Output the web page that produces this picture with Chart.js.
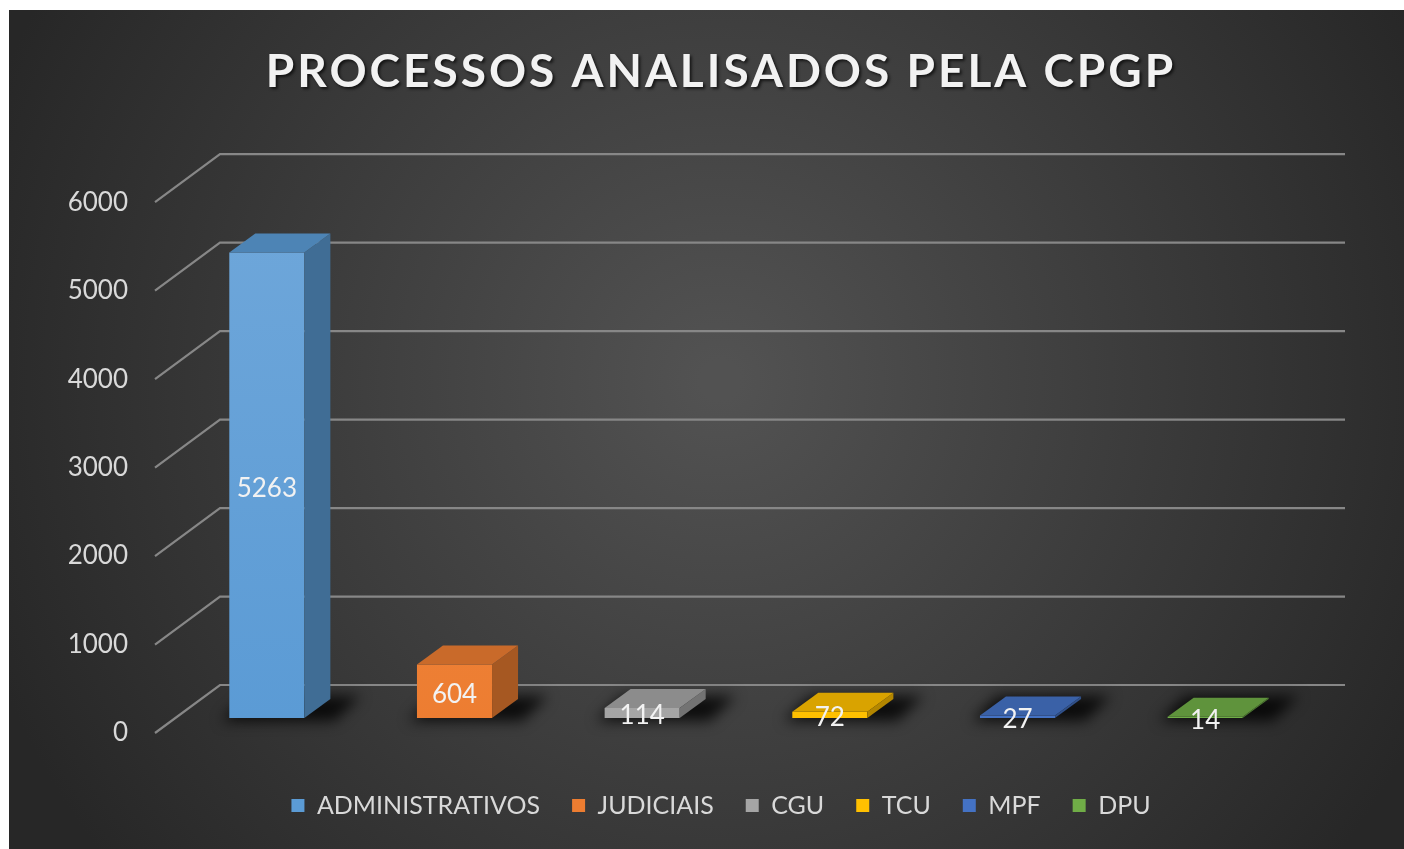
<!DOCTYPE html>
<html>
<head>
<meta charset="utf-8">
<script src="https://cdn.jsdelivr.net/npm/chart.js@4"></script>
<style>
  html, body { margin: 0; background: #fff; }
  #wrap { width: 1404px; height: 849px; }
</style>
</head>
<body>
<div id="wrap"><canvas id="grafico"></canvas></div>
<script>
const categories = ['ADMINISTRATIVOS', 'JUDICIAIS', 'CGU', 'TCU', 'MPF', 'DPU'];
const values = [5263, 604, 114, 72, 27, 14];
const yTicks = [0, 1000, 2000, 3000, 4000, 5000, 6000];
const barColors = ['#5b9bd5', '#ed7d31', '#a5a5a5', '#ffc000', '#4472c4', '#70ad47'];

// profundidade das barras (deslocamento para trás)
const DX = 26, DY = -19;

function shade(hex, f) {
    const n = parseInt(hex.slice(1), 16);
    const r = Math.min(255, Math.round((n >> 16) * f));
    const g = Math.min(255, Math.round(((n >> 8) & 255) * f));
    const b = Math.min(255, Math.round((n & 255) * f));
    return `rgb(${r},${g},${b})`;
}

function tint(hex, t) {
    const n = parseInt(hex.slice(1), 16);
    const mix = c => Math.round(c + (255 - c) * t);
    return `rgb(${mix(n >> 16)},${mix((n >> 8) & 255)},${mix(n & 255)})`;
}

const fundo3d = {
    id: 'fundo3d',
    afterInit(chart) {
        // espaçamento entre letras e sombra só no título
        const tb = chart.titleBlock;
        const orig = tb.draw.bind(tb);
        tb.draw = () => {
            const ctx = chart.ctx;
            ctx.save();
            ctx.letterSpacing = '3px';
            ctx.shadowColor = 'rgba(0,0,0,0.65)';
            ctx.shadowOffsetX = 2;
            ctx.shadowOffsetY = 2;
            ctx.shadowBlur = 3;
            orig();
            ctx.restore();
        };
    },
    beforeDraw(chart) {
        const ctx = chart.ctx;
        ctx.save();
        const g = ctx.createRadialGradient(720, 380, 20, 720, 380, 780);
        g.addColorStop(0, '#525252');
        g.addColorStop(1, '#272727');
        ctx.fillStyle = g;
        ctx.fillRect(9, 10, 1395, 839);
        ctx.restore();
    },
    beforeDatasetsDraw(chart) {
        const ctx = chart.ctx;
        const y = chart.scales.y;
        const a = chart.chartArea;
        ctx.save();
        // linhas de grade em perspectiva
        ctx.strokeStyle = '#878787';
        ctx.lineWidth = 2.2;
        yTicks.forEach(v => {
            const yy = y.getPixelForValue(v) - 33;
            ctx.beginPath();
            ctx.moveTo(a.left - 18, yy + 48);
            ctx.lineTo(a.left + 47, yy);
            ctx.lineTo(a.right + 46, yy);
            ctx.stroke();
        });
        // sombras no chão
        const meta = chart.getDatasetMeta(0);
        ctx.filter = 'blur(7px)';
        ctx.fillStyle = 'rgba(0,0,0,0.8)';
        meta.data.forEach(el => {
            const p = el.getProps(['x', 'base', 'width'], true);
            const l = p.x - p.width / 2, r = p.x + p.width / 2;
            ctx.beginPath();
            ctx.moveTo(l - 8, p.base + 3);
            ctx.lineTo(r + 30, p.base + 3);
            ctx.lineTo(r + DX + 30, p.base + DY - 3);
            ctx.lineTo(l + DX - 8, p.base + DY - 3);
            ctx.closePath();
            ctx.fill();
        });
        ctx.restore();
    },
    afterDatasetsDraw(chart) {
        const ctx = chart.ctx;
        const meta = chart.getDatasetMeta(0);
        ctx.save();
        meta.data.forEach((el, i) => {
            const p = el.getProps(['x', 'y', 'base', 'width'], true);
            const l = p.x - p.width / 2, r = p.x + p.width / 2;
            const col = barColors[i];
            // lateral
            ctx.fillStyle = shade(col, 0.7);
            ctx.beginPath();
            ctx.moveTo(r, p.y);
            ctx.lineTo(r + DX, p.y + DY);
            ctx.lineTo(r + DX, p.base + DY);
            ctx.lineTo(r, p.base);
            ctx.closePath();
            ctx.fill();
            // topo
            ctx.fillStyle = shade(col, 0.85);
            ctx.beginPath();
            ctx.moveTo(l, p.y);
            ctx.lineTo(l + DX, p.y + DY);
            ctx.lineTo(r + DX, p.y + DY);
            ctx.lineTo(r, p.y);
            ctx.closePath();
            ctx.fill();
        });
        // rótulos de dados
        ctx.font = '26px Lato';
        ctx.fillStyle = '#f2f2f2';
        ctx.textAlign = 'center';
        ctx.textBaseline = 'middle';
        meta.data.forEach((el, i) => {
            const p = el.getProps(['x', 'y', 'base'], true);
            ctx.fillText(String(values[i]), p.x, (p.y + p.base) / 2 + 3);
        });
        ctx.restore();
    }
};

new Chart(document.getElementById('grafico'), {
    type: 'bar',
    data: {
        labels: categories,
        datasets: [{
            data: values,
            categoryPercentage: 1,
            barPercentage: 0.4,
            backgroundColor: c => {
                const col = barColors[c.dataIndex];
                const area = c.chart.chartArea;
                if (!area) return col;
                const g = c.chart.ctx.createLinearGradient(0, area.top, 0, area.bottom);
                g.addColorStop(0, tint(col, 0.12));
                g.addColorStop(1, col);
                return g;
            }
        }]
    },
    options: {
        responsive: true,
        maintainAspectRatio: false,
        animation: false,
        layout: { padding: { top: 44, bottom: 21, left: 38, right: 0 } },
        plugins: {
            title: {
                display: true,
                text: 'PROCESSOS ANALISADOS PELA CPGP',
                color: '#f2f2f2',
                font: { family: 'Lato', size: 46, weight: 'bold' },
                padding: { top: 1, bottom: 87 }
            },
            legend: {
                position: 'bottom',
                onClick: null,
                labels: {
                    color: '#d9d9d9',
                    font: { family: 'Lato', size: 25 },
                    boxWidth: 13,
                    boxHeight: 13,
                    padding: 32,
                    generateLabels: () => categories.map((c, i) => ({
                        text: c,
                        fillStyle: barColors[i],
                        strokeStyle: barColors[i],
                        lineWidth: 0,
                        fontColor: '#d9d9d9',
                        hidden: false,
                        index: i
                    }))
                }
            },
            tooltip: { enabled: false }
        },
        scales: {
            x: {
                ticks: { display: false },
                grid: { display: false },
                border: { display: false },
                afterFit: s => { s.height = 43; }
            },
            y: {
                min: 0,
                max: 6000,
                afterBuildTicks: s => { s.ticks = yTicks.map(v => ({ value: v })); },
                ticks: {
                    color: '#d9d9d9',
                    font: { family: 'Lato', size: 26 },
                    padding: 45,
                    labelOffset: 15,
                    callback: v => String(v)
                },
                grid: { display: false, drawTicks: false },
                border: { display: false },
                afterFit: s => { s.width = 135; }
            },
            y2: {
                position: 'right',
                ticks: { display: false },
                grid: { display: false },
                border: { display: false },
                afterFit: s => { s.width = 105; }
            }
        }
    },
    plugins: [fundo3d]
});
</script>
</body>
</html>
